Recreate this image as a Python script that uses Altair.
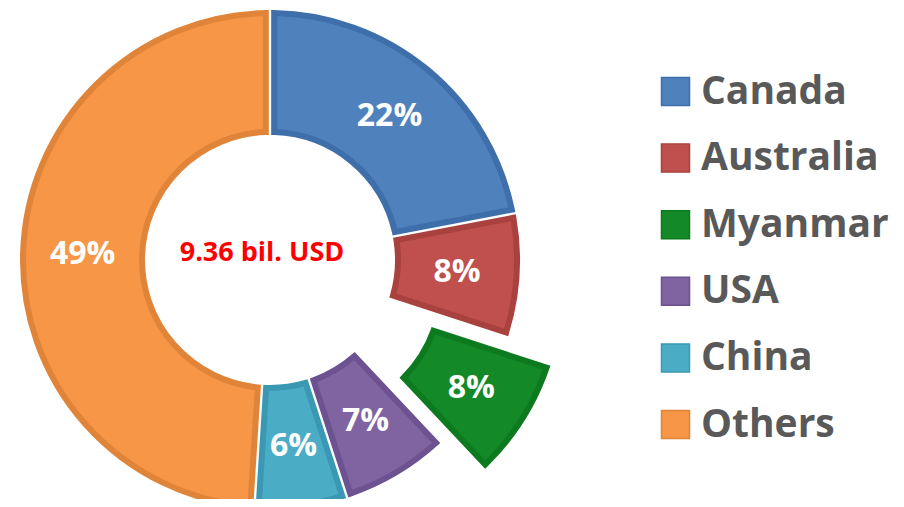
import math
import altair as alt
import pandas as pd

countries = ["Canada", "Australia", "Myanmar", "USA", "China", "Others"]
shares = [22, 8, 8, 7, 6, 49]
labels = ["22%", "8%", "8%", "7%", "6%", "49%"]
fills = ["#4F81BD", "#C0504D", "#138A27", "#8064A2", "#4BACC6", "#F79646"]
strokes = ["#3F6FAA", "#A9423F", "#0D7A1F", "#6C5290", "#3A98B3", "#E0843A"]
exploded = "Myanmar"
center_label = "9.36 bil. USD"

df = pd.DataFrame({"country": countries, "share": shares, "label": labels,
                   "idx": list(range(len(countries)))})

CX, CY = 262, 252
R_OUT, R_IN = 247, 128
EXPLODE = 51
FONT = "Open Sans"

k = countries.index(exploded)
mid_frac = (sum(shares[:k]) + shares[k] / 2) / sum(shares)
DX = EXPLODE * math.sin(mid_frac * 2 * math.pi)
DY = -EXPLODE * math.cos(mid_frac * 2 * math.pi)

theta_scale = alt.Scale(domain=[0, sum(shares)], range=[0, 2 * math.pi])
color = alt.Color("country:N", scale=alt.Scale(domain=countries, range=fills),
                  legend=alt.Legend(title=None))
stroke = alt.Stroke("country:N", scale=alt.Scale(domain=countries, range=strokes), legend=None)

base = alt.Chart(df).transform_window(
    cum="sum(share)", sort=[alt.SortField("idx")], frame=[None, 0]
).transform_calculate(
    start="datum.cum - datum.share", mid="datum.cum - datum.share / 2"
)


def arcs(pred, x, y):
    return base.transform_filter(pred).mark_arc(
        outerRadius=R_OUT, innerRadius=R_IN, padAngle=0.03, strokeWidth=6
    ).encode(
        theta=alt.Theta("start:Q", scale=theta_scale),
        theta2="cum:Q",
        color=color,
        stroke=stroke,
        x=alt.value(x), y=alt.value(y),
    )


def texts(pred, x, y):
    return base.transform_filter(pred).mark_text(
        radius=(R_OUT + R_IN) / 2, fontSize=32, fontWeight="bold", font=FONT, color="white"
    ).encode(
        theta=alt.Theta("mid:Q", scale=theta_scale),
        text="label:N",
        x=alt.value(x), y=alt.value(y),
    )


not_ex = f"datum.country != '{exploded}'"
is_ex = f"datum.country == '{exploded}'"

center = alt.Chart(pd.DataFrame({"t": [center_label]})).mark_text(
    fontSize=27, fontWeight="bold", font=FONT, color="#FF0000"
).encode(text="t:N", x=alt.value(CX - 8), y=alt.value(CY - 7))

chart = alt.layer(
    arcs(not_ex, CX, CY),
    arcs(is_ex, CX + DX, CY + DY),
    texts(not_ex, CX, CY),
    texts(is_ex, CX + DX, CY + DY),
    center,
).properties(
    width=888, height=491, padding=0, autosize=alt.AutoSizeParams(type="none")
).configure_view(stroke=None).configure_legend(
    orient="none", legendX=648, legendY=64, padding=0,
    symbolType="square", symbolSize=784, symbolStrokeWidth=1.5,
    labelFont=FONT, labelFontSize=39, labelFontWeight="bold", labelColor="#595959",
    labelOffset=6, rowPadding=26.6, labelLimit=400,
)

chart.save("out.html", embed_options={"renderer": "svg", "actions": False})
